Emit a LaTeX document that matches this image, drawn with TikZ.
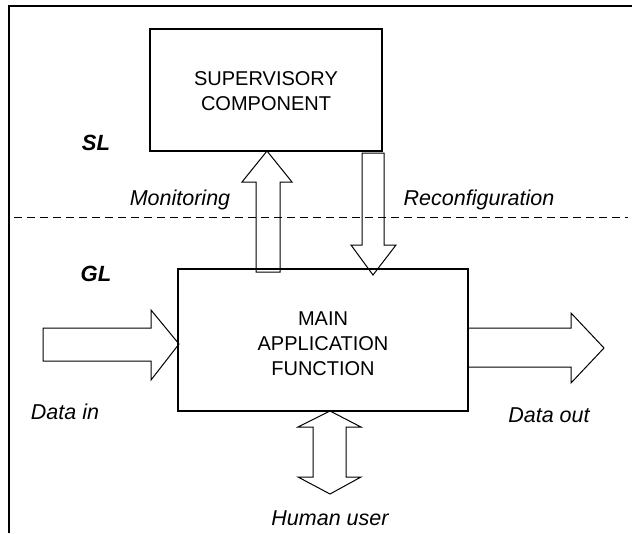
\documentclass[tikz,border=0pt]{standalone}
\usepackage{fontspec}
\setmainfont{Liberation Sans}
\begin{document}
\begin{tikzpicture}[x=1pt,y=-1pt,line width=1pt,
  box/.style={draw,line width=1.2pt,inner sep=0pt,align=center,font=\fontsize{20}{25}\selectfont},
  lbl/.style={font=\fontsize{21.5}{25}\selectfont\itshape,inner sep=0pt},
  layer/.style={font=\fontsize{22}{26}\selectfont\bfseries\itshape,inner sep=0pt},
  blockarrow/.style={draw,line width=1pt,line join=miter},
  divider/.style={line width=1pt,dash pattern=on 8pt off 5pt}]
\useasboundingbox (0,0) rectangle (632,533);
% frame
\draw[line width=1.2pt] (9,533) -- (9,6) -- (632,6);
% boxes
\node[box,minimum width=232pt,minimum height=122pt] (sup) at (266,90) {};
\node[box,font=\fontsize{20}{25}\selectfont] (suptext) at (266,91) [draw=none] {SUPERVISORY\\COMPONENT};
\node[box,minimum width=290pt,minimum height=142pt] (main) at (323,340) {};
\node[box,draw=none] (maintext) at (323,344) {MAIN\\APPLICATION\\FUNCTION};
% layer divider
\coordinate (dl) at (14,217);
\coordinate (dr) at (628,217);
\draw[divider] (dl) -- (dr);
% Monitoring (up)
\draw[blockarrow] (256,272) -- (256,182) -- (242,182) -- (267,151) -- (292,182) -- (280,182) -- (280,272) -- cycle;
% Reconfiguration (down)
\draw[blockarrow] (362,153) -- (384,153) -- (384,245) -- (396,245) -- (373,275) -- (351,245) -- (362,245) -- cycle;
% Data in
\draw[blockarrow] (43,328) -- (151,328) -- (151,310) -- (179,344) -- (151,380) -- (151,361) -- (43,361) -- cycle;
% Data out
\draw[blockarrow] (468,328) -- (571,328) -- (571,313) -- (604,348) -- (571,383) -- (571,367) -- (468,367);
% Human user (double)
\draw[blockarrow] (330,411) -- (361,427) -- (346,427) -- (346,477) -- (361,477) -- (330,494) -- (298,477) -- (313,477) -- (313,427) -- (298,427) -- cycle;
% labels
\node[layer] (sl) at (96,143) {SL};
\node[layer] (gl) at (96,274) {GL};
\node[lbl] (mon) at (180,200) {Monitoring};
\node[lbl] (rec) at (479,200) {Reconfiguration};
\node[lbl] (din) at (65,412) {Data in};
\node[lbl] (dout) at (549,415) {Data out};
\node[lbl] (hu) at (330,518) {Human user};
\end{tikzpicture}
\end{document}
